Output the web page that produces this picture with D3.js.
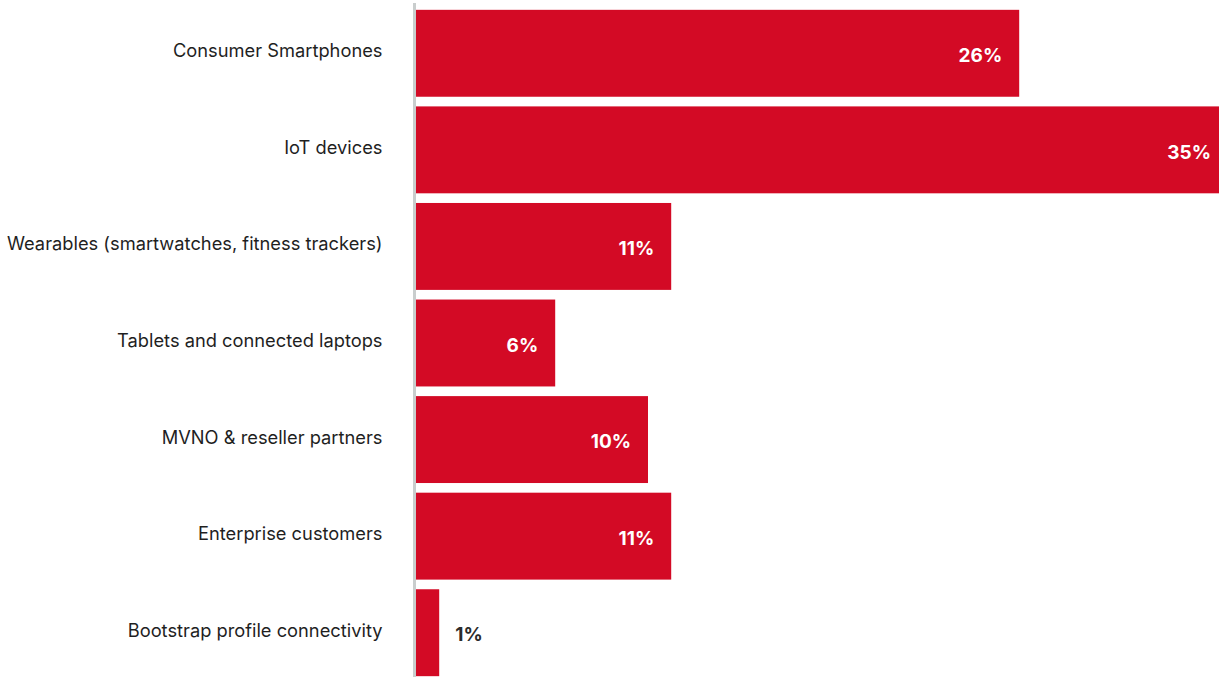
<!DOCTYPE html>
<html>
<head>
<meta charset="utf-8">
<script src="https://cdn.jsdelivr.net/npm/d3@7"></script>
<style>
  html, body { margin: 0; padding: 0; background: #fff; overflow: hidden; }
  svg { display: block; font-family: Inter, "Noto Sans", sans-serif; }
</style>
</head>
<body>
<svg id="chart" width="1219" height="677"></svg>
<script>
// Share of eSIM activations by segment (%)
const categories = [
  "Consumer Smartphones",
  "IoT devices",
  "Wearables (smartwatches, fitness trackers)",
  "Tablets and connected laptops",
  "MVNO & reseller partners",
  "Enterprise customers",
  "Bootstrap profile connectivity"
];
const values = [26, 35, 11, 6, 10, 11, 1];
const valueLabels = ["26%", "35%", "11%", "6%", "10%", "11%", "1%"];

const data = categories.map((c, i) => ({ category: c, value: values[i], label: valueLabels[i] }));

const svg = d3.select("#chart");
const barColor = "#d30a25";

const x = d3.scaleLinear().domain([0, 35]).range([416, 1228]);
const y = d3.scaleBand().domain(categories).range([5, 681]).paddingInner(0.1).paddingOuter(0.05);

// bars
svg.append("g").selectAll("rect").data(data).join("rect")
  .attr("x", x(0))
  .attr("y", d => y(d.category))
  .attr("width", d => x(d.value) - x(0))
  .attr("height", y.bandwidth())
  .attr("fill", barColor);

// category axis on the left
const yAxis = d3.axisLeft(y).tickSize(0).tickPadding(32);
const gy = svg.append("g").attr("transform", `translate(${x(0) - 1.5},0)`).call(yAxis);
gy.select(".domain").attr("stroke", "#c9cdcd").attr("stroke-width", 3).attr("d", "M0,3V677");
gy.selectAll("text")
  .attr("font-size", 18.3)
  .attr("fill", "#1f1f1f")
  .attr("font-family", "Inter, 'Noto Sans', sans-serif")
  .attr("dy", "0.22em");

// value labels: inside the bar when it is wide enough, outside otherwise
svg.append("g").selectAll("text").data(data).join("text")
  .attr("x", d => (x(d.value) - x(0) > 60) ? x(d.value) - 17 : x(d.value) + 16)
  .attr("y", d => y(d.category) + y.bandwidth() / 2 + 2)
  .attr("dy", "0.35em")
  .attr("text-anchor", d => (x(d.value) - x(0) > 60) ? "end" : "start")
  .attr("font-size", 19)
  .attr("font-weight", 700)
  .attr("fill", d => (x(d.value) - x(0) > 60) ? "#ffffff" : "#2b2b2b")
  .text(d => d.label);
</script>
</body>
</html>
